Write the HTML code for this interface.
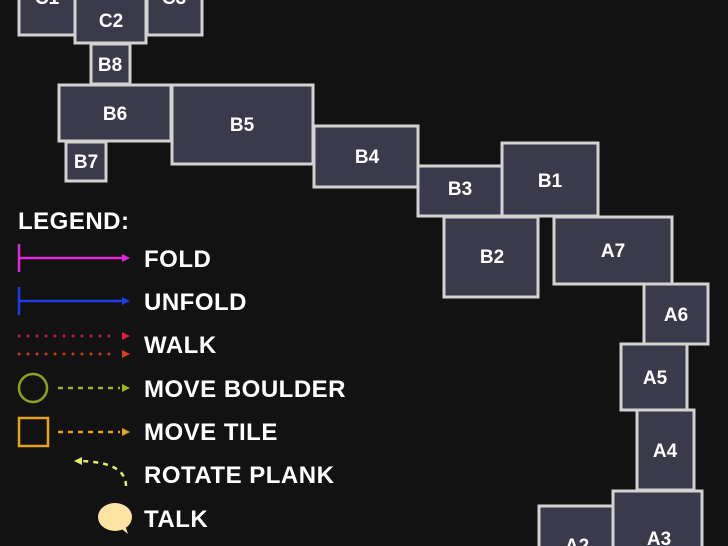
<!DOCTYPE html>
<html><head><meta charset="utf-8"><style>
html,body{margin:0;padding:0;background:#121212;}
svg{display:block}
text{font-family:"Liberation Sans",sans-serif;font-weight:bold;fill:#fff;}
</style></head><body>
<svg width="728" height="546" viewBox="0 0 728 546" xmlns="http://www.w3.org/2000/svg">
<rect width="728" height="546" fill="#121212"/>
<g fill="#3b3a4a" stroke="#d2d2d2" stroke-width="3">
<rect x="19" y="-10" width="56" height="45"/>
<rect x="147" y="-10" width="55" height="45"/>
<rect x="75" y="-10" width="71" height="53"/>
<rect x="91" y="44" width="39" height="40"/>
<rect x="59" y="85" width="112" height="56"/>
<rect x="172" y="85" width="141" height="79"/>
<rect x="66" y="142" width="40" height="39"/>
<rect x="314" y="126" width="104" height="61"/>
<rect x="418" y="166" width="84" height="50"/>
<rect x="502" y="143" width="96" height="73"/>
<rect x="444" y="217" width="94" height="80"/>
<rect x="554" y="217" width="118" height="67"/>
<rect x="644" y="284" width="64" height="60"/>
<rect x="621" y="344" width="66" height="66"/>
<rect x="637" y="410" width="57" height="80"/>
<rect x="539" y="506" width="74" height="60"/>
<rect x="613" y="491" width="89" height="70"/>
</g>
<g font-size="19" text-anchor="middle">
<text x="47" y="4">C1</text>
<text x="174" y="4">C3</text>
<text x="111" y="27">C2</text>
<text x="110" y="71">B8</text>
<text x="115" y="120">B6</text>
<text x="242" y="131">B5</text>
<text x="86" y="168">B7</text>
<text x="367" y="163">B4</text>
<text x="460" y="195">B3</text>
<text x="550" y="187">B1</text>
<text x="492" y="263">B2</text>
<text x="613" y="257">A7</text>
<text x="676" y="321">A6</text>
<text x="655" y="384">A5</text>
<text x="665" y="457">A4</text>
<text x="577" y="552">A2</text>
<text x="659" y="545">A3</text>
</g>
<g font-size="24" letter-spacing="0.5" text-anchor="start">
<text x="18" y="229">LEGEND:</text>
<text x="144" y="267">FOLD</text>
<text x="144" y="310">UNFOLD</text>
<text x="144" y="353">WALK</text>
<text x="144" y="397">MOVE BOULDER</text>
<text x="144" y="440">MOVE TILE</text>
<text x="144" y="483">ROTATE PLANK</text>
<text x="144" y="527">TALK</text>
</g>
<g stroke="#e02ad8" stroke-width="2.5" fill="#e02ad8">
<line x1="19" y1="244" x2="19" y2="272"/>
<line x1="19" y1="258" x2="123" y2="258"/>
<polygon points="122,254 130,258 122,262" stroke="none"/>
</g>
<g stroke="#1f3ae8" stroke-width="2.5" fill="#1f3ae8">
<line x1="19" y1="287" x2="19" y2="315"/>
<line x1="19" y1="301" x2="123" y2="301"/>
<polygon points="122,297 130,301 122,305" stroke="none"/>
</g>
<g stroke-width="3" stroke-linecap="round">
<line x1="19" y1="336" x2="118" y2="336" stroke="#c0183a" stroke-dasharray="0 9"/>
<polygon points="122,332 130,336 122,340" fill="#e01a40"/>
<line x1="19" y1="354" x2="118" y2="354" stroke="#c03a1a" stroke-dasharray="0 9"/>
<polygon points="122,350 130,354 122,358" fill="#d0401a"/>
</g>
<circle cx="33" cy="388" r="14" fill="none" stroke="#86a51a" stroke-width="2.5"/>
<line x1="58" y1="388" x2="120" y2="388" stroke="#9ab32a" stroke-width="2.5" stroke-dasharray="5 5"/>
<polygon points="122,384 130,388 122,392" fill="#9ab32a"/>
<rect x="19" y="418" width="29" height="28" fill="none" stroke="#e6a21a" stroke-width="2.5"/>
<line x1="58" y1="432" x2="120" y2="432" stroke="#e6a21a" stroke-width="2.5" stroke-dasharray="5 5"/>
<polygon points="122,428 130,432 122,436" fill="#e6a21a"/>
<path d="M126 486 Q126 462 80 461" fill="none" stroke="#e4ee6a" stroke-width="2.5" stroke-dasharray="5 5"/>
<polygon points="74,461 82,457 82,465" fill="#e4ee6a"/>
<ellipse cx="115" cy="517" rx="17" ry="14" fill="#fde3a4"/>
<polygon points="118,526 128,534 124,522" fill="#fde3a4"/>
</svg>
</body></html>
